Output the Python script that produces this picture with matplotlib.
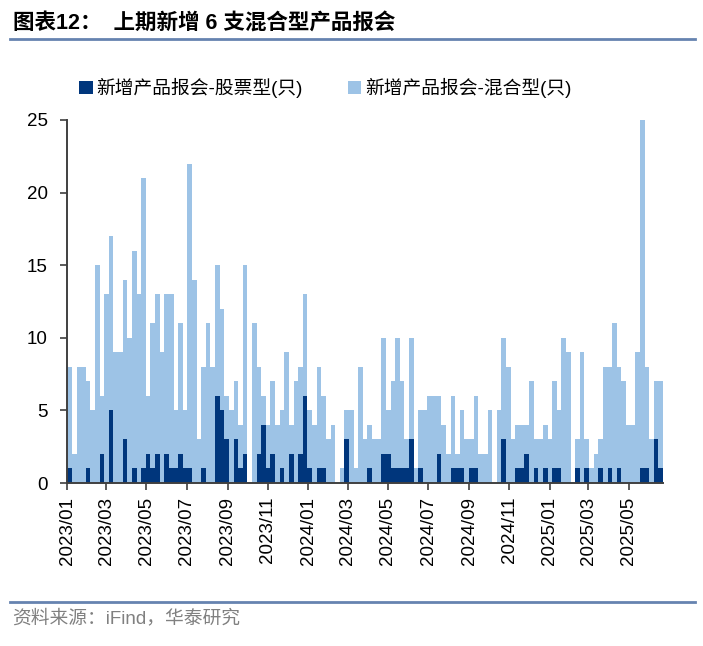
import matplotlib
matplotlib.use("Agg")
import matplotlib.pyplot as plt
import matplotlib.dates as mdates
import pandas as pd

# ---- data (weekly, starting week of 2023-01-01) ----
start_date = "2023-01-01"
n_weeks = 129
stock = [1, 0, 0, 0, 1, 0, 0, 2, 0, 5, 0, 0, 3, 0, 1, 0, 1, 2, 1, 2,
         0, 2, 1, 1, 2, 1, 1, 0, 0, 1, 0, 0, 6, 5, 3, 0, 3, 1, 2, 0,
         0, 2, 4, 1, 2, 0, 1, 0, 2, 0, 2, 6, 1, 0, 1, 1, 0, 0, 0, 0,
         3, 0, 0, 0, 0, 1, 0, 0, 2, 2, 1, 1, 1, 1, 3, 0, 1, 0, 0, 0,
         2, 0, 0, 1, 1, 1, 0, 1, 1, 0, 0, 0, 0, 0, 3, 0, 0, 1, 1, 2,
         0, 1, 0, 1, 0, 1, 1, 0, 0, 0, 1, 0, 1, 0, 0, 1, 0, 1, 0, 1,
         0, 0, 0, 0, 1, 1, 0, 3, 1]
mixed = [7, 2, 8, 8, 6, 5, 15, 4, 13, 12, 9, 9, 11, 10, 15, 13, 20, 4, 10, 11,
         9, 11, 12, 4, 9, 4, 21, 14, 3, 7, 11, 8, 9, 7, 3, 5, 4, 3, 13, 0,
         11, 6, 2, 3, 5, 4, 4, 9, 2, 7, 6, 7, 4, 4, 7, 5, 3, 4, 0, 1,
         2, 5, 1, 8, 3, 3, 3, 3, 8, 3, 6, 9, 6, 2, 7, 1, 4, 5, 6, 6,
         4, 4, 2, 5, 1, 4, 3, 2, 5, 2, 2, 5, 0, 5, 7, 8, 3, 3, 3, 2,
         7, 2, 3, 3, 3, 6, 4, 10, 9, 0, 2, 9, 2, 1, 2, 2, 8, 7, 11, 7,
         7, 4, 4, 9, 24, 7, 3, 4, 6]
legend_labels = ["新增产品报会-股票型(只)", "新增产品报会-混合型(只)"]
title_text = "图表12：  上期新增 6 支混合型产品报会"
source_text = "资料来源：iFind，华泰研究"
y_ticks = [0, 5, 10, 15, 20, 25]

weeks = pd.date_range(start_date, periods=n_weeks, freq="7D")

DARK = "#00367C"
LIGHT = "#9DC3E6"
LINE = "#6683B0"
FONTS = ["Liberation Sans", "Noto Sans CJK SC", "DejaVu Sans"]
plt.rcParams["font.family"] = FONTS

fig = plt.figure(figsize=(7.03, 6.46), dpi=100)
ax = fig.add_axes([67.3 / 703, 1 - 483 / 646, (663 - 67.3) / 703, (483 - 120) / 646])

ax.bar(weeks, stock, width=7, align="edge", color=DARK, linewidth=0,
       label=legend_labels[0])
ax.bar(weeks, mixed, width=7, align="edge", bottom=stock, color=LIGHT,
       linewidth=0, label=legend_labels[1])

ax.set_xlim(weeks[0], weeks[-1] + pd.Timedelta(days=7))
ax.set_ylim(0, 25)
ax.set_yticks(y_ticks)
ax.xaxis.set_major_locator(mdates.MonthLocator(bymonth=[1, 3, 5, 7, 9, 11]))
ax.xaxis.set_major_formatter(mdates.DateFormatter("%Y/%m"))
for lab in ax.get_xticklabels():
    lab.set_rotation(90)

for s in ["top", "right"]:
    ax.spines[s].set_visible(False)
for s in ["left", "bottom"]:
    ax.spines[s].set_color("#404040")
    ax.spines[s].set_linewidth(1.4)
ax.spines["left"].set_zorder(5)
ax.tick_params(axis="both", direction="out", length=5, width=1.2,
               color="#404040", labelsize=13.5, labelcolor="black")
ax.tick_params(axis="y", pad=9)
ax.tick_params(axis="x", pad=5)

leg = ax.legend(loc="upper left", bbox_to_anchor=(79 / 703, 1 - 78 / 646),
                bbox_transform=fig.transFigure, ncol=2, frameon=False,
                prop={"size": 13.5}, handlelength=0.72, handleheight=0.72,
                handletextpad=0.2, columnspacing=2.4, borderpad=0,
                borderaxespad=0)

fig.text(13 / 703, 1 - 24 / 646, title_text, fontsize=15.5, fontweight="bold",
         va="center", ha="left", color="black")
fig.add_artist(plt.Line2D([10 / 703, 695 / 703], [1 - 38.5 / 646, 1 - 38.5 / 646],
                          color=LINE, linewidth=2))
fig.add_artist(plt.Line2D([10 / 703, 695 / 703], [1 - 602 / 646, 1 - 602 / 646],
                          color=LINE, linewidth=2))
fig.text(12 / 703, 1 - 618 / 646, source_text, fontsize=13.5, va="center",
         ha="left", color="#808080")

fig.savefig("out.png", dpi=100)
